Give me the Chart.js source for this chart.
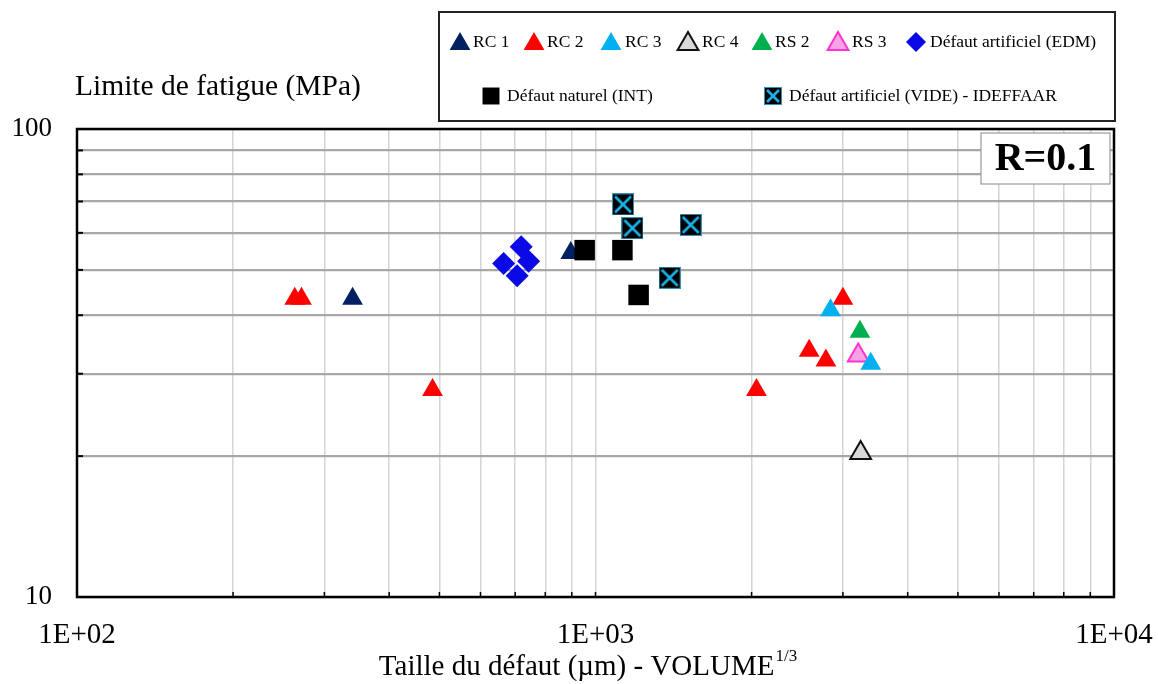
<!DOCTYPE html>
<html>
<head>
<meta charset="utf-8">
<script src="https://cdn.jsdelivr.net/npm/chart.js@4"></script>
<style>
  html, body { margin: 0; padding: 0; background: #fff; }
  #chart { display: block; }
</style>
</head>
<body>
<canvas id="chart" width="1158" height="684"></canvas>
<script>
// data (x = defect size in µm, y = fatigue limit in MPa)
var rc1X = [340, 896];
var rc1Y = [43.4, 54.3];
var rc2X = [263, 271, 485, 2044, 3000, 2583, 2782];
var rc2Y = [43.4, 43.4, 27.7, 27.7, 43.4, 33.6, 32.0];
var rc3X = [2840, 3395];
var rc3Y = [41.0, 31.5];
var rc4X = [3246];
var rc4Y = [20.3];
var rs2X = [3236];
var rs2Y = [36.9];
var rs3X = [3212];
var rs3Y = [32.8];
var edmX = [719, 743, 665, 706];
var edmY = [56.0, 52.2, 51.6, 48.6];
var intX = [953, 1127, 1211];
var intY = [55.1, 55.1, 44.2];
var videX = [1130, 1178, 1526, 1390];
var videY = [69.0, 61.4, 62.4, 48.1];

var seriesLabels = ['RC 1', 'RC 2', 'RC 3', 'RC 4', 'RS 2', 'RS 3',
  'Défaut artificiel (EDM)', 'Défaut naturel (INT)', 'Défaut artificiel (VIDE) - IDEFFAAR'];

// grid positions of the two log axes, and the few that carry a label
var xGridValues = [100, 200, 300, 400, 500, 600, 700, 800, 900,
  1000, 2000, 3000, 4000, 5000, 6000, 7000, 8000, 9000, 10000];
var yGridValues = [10, 20, 30, 40, 50, 60, 70, 80, 90, 100];
var xTickValues = [100, 1000, 10000];
var xTickLabels = ['1E+02', '1E+03', '1E+04'];
var yTickValues = [10, 100];
var yTickLabels = ['10', '100'];

var yTitle = 'Limite de fatigue (MPa)';
var xTitle = 'Taille du défaut (µm) - VOLUME';
var xTitleSup = '1/3';
var ratioText = 'R=0.1';

var FONT = '"Liberation Serif", "Times New Roman", serif';

function pts(xs, ys) {
  return xs.map(function(x, i) { return {x: x, y: ys[i]}; });
}

function findLabel(values, labels, v) {
  for (var i = 0; i < values.length; i++) {
    if (Math.abs(v - values[i]) < values[i] * 1e-6) return labels[i];
  }
  return '';
}

// black square with a cyan cross for the VIDE series
function makeVideMarker(size) {
  var c = document.createElement('canvas');
  c.width = size; c.height = size;
  var g = c.getContext('2d');
  g.fillStyle = '#000';
  g.fillRect(0, 0, size, size);
  g.strokeStyle = '#3a8fb5';
  g.lineWidth = 1;
  g.strokeRect(0.5, 0.5, size - 1, size - 1);
  g.strokeStyle = '#1ab2ea';
  g.lineWidth = 2.6;
  g.beginPath();
  g.moveTo(3, 3); g.lineTo(size - 3, size - 3);
  g.moveTo(size - 3, 3); g.lineTo(3, size - 3);
  g.stroke();
  return c;
}
var videMarker = makeVideMarker(22);
var videLegendMarker = makeVideMarker(18);

function tri(label, data, fill, border, bw, order) {
  return {
    label: label, data: data, pointStyle: 'triangle', pointRadius: 12, pointHoverRadius: 12,
    backgroundColor: fill, borderColor: border, pointBorderWidth: bw, order: order
  };
}

var datasets = [
  tri(seriesLabels[0], pts(rc1X, rc1Y), '#002060', '#002060', 0, 9),
  tri(seriesLabels[1], pts(rc2X, rc2Y), '#ff0000', '#ff0000', 0, 5),
  tri(seriesLabels[2], pts(rc3X, rc3Y), '#00b0f0', '#00b0f0', 0, 4),
  tri(seriesLabels[3], pts(rc4X, rc4Y), '#d9d9d9', '#111111', 2, 8),
  tri(seriesLabels[4], pts(rs2X, rs2Y), '#00b050', '#00b050', 0, 7),
  tri(seriesLabels[5], pts(rs3X, rs3Y), '#f5a3e4', '#ff33cc', 2, 6),
  {
    label: seriesLabels[6], data: pts(edmX, edmY), pointStyle: 'rectRot', pointRadius: 11.5, pointHoverRadius: 11.5,
    backgroundColor: '#0a0ae6', borderColor: '#0a0ae6', pointBorderWidth: 0, order: 3
  },
  {
    label: seriesLabels[7], data: pts(intX, intY), pointStyle: 'rect', pointRadius: 14.5, pointHoverRadius: 14.5,
    backgroundColor: '#000', borderColor: '#000', pointBorderWidth: 0, order: 2
  },
  {
    label: seriesLabels[8], data: pts(videX, videY), pointStyle: videMarker, pointRadius: 11, pointHoverRadius: 11,
    backgroundColor: '#000', borderColor: '#000', pointBorderWidth: 0, order: 1
  }
];

var framePlugin = {
  id: 'frame',
  beforeDatasetsDraw: function(chart) {
    var a = chart.chartArea, ctx = chart.ctx;
    var sx = chart.scales.x, sy = chart.scales.y;
    ctx.save();
    ctx.strokeStyle = '#000';
    ctx.lineWidth = 1.5;
    sx.ticks.forEach(function(t) {
      var px = sx.getPixelForValue(t.value);
      ctx.beginPath(); ctx.moveTo(px, a.bottom); ctx.lineTo(px, a.bottom - 5); ctx.stroke();
    });
    ctx.lineWidth = 2;
    sy.ticks.forEach(function(t) {
      var py = sy.getPixelForValue(t.value);
      ctx.beginPath(); ctx.moveTo(a.left, py); ctx.lineTo(a.left + 6, py); ctx.stroke();
    });
    ctx.lineWidth = 2.5;
    ctx.strokeRect(a.left, a.top, a.right - a.left, a.bottom - a.top);
    ctx.restore();
  },
  afterDraw: function(chart) {
    var ctx = chart.ctx;
    var a = chart.chartArea;
    ctx.save();

    // axis titles
    ctx.fillStyle = '#000';
    ctx.textBaseline = 'middle';
    ctx.font = '29.5px ' + FONT;
    ctx.textAlign = 'left';
    ctx.fillText(yTitle, a.left - 2, 87);

    ctx.font = '29px ' + FONT;
    var w1 = ctx.measureText(xTitle).width;
    ctx.font = '17px ' + FONT;
    var w2 = ctx.measureText(xTitleSup).width;
    var x0 = (a.left + a.right) / 2 - 8 - (w1 + w2) / 2;
    ctx.font = '29px ' + FONT;
    ctx.fillText(xTitle, x0, 667);
    ctx.font = '17px ' + FONT;
    ctx.fillText(xTitleSup, x0 + w1 + 1, 657);

    // R=0.1 box
    ctx.fillStyle = '#fff';
    ctx.fillRect(981, 133, 129, 51);
    ctx.strokeStyle = '#9a9a9a';
    ctx.lineWidth = 1.2;
    ctx.strokeRect(981, 133, 129, 51);
    ctx.fillStyle = '#000';
    ctx.font = 'bold 40px ' + FONT;
    ctx.textAlign = 'center';
    ctx.fillText(ratioText, 1045.5, 160);

    // legend box
    ctx.fillStyle = '#fff';
    ctx.fillRect(439, 12, 676, 109);
    ctx.strokeStyle = '#222';
    ctx.lineWidth = 2;
    ctx.strokeRect(439, 12, 676, 109);

    var items = [
      {i: 0, mx: 460, tx: 473, y: 42},
      {i: 1, mx: 534, tx: 547, y: 42},
      {i: 2, mx: 611, tx: 625, y: 42},
      {i: 3, mx: 688, tx: 702, y: 42},
      {i: 4, mx: 762, tx: 775, y: 42},
      {i: 5, mx: 838, tx: 852, y: 42},
      {i: 6, mx: 916, tx: 930, y: 42},
      {i: 7, mx: 491, tx: 507, y: 96},
      {i: 8, mx: 773, tx: 789, y: 96}
    ];
    ctx.font = '17.5px ' + FONT;
    ctx.textAlign = 'left';
    items.forEach(function(it) {
      var ds = chart.data.datasets[it.i];
      ctx.fillStyle = ds.backgroundColor;
      ctx.strokeStyle = ds.borderColor;
      ctx.lineWidth = ds.pointBorderWidth;
      if (it.i === 8) {
        ctx.drawImage(videLegendMarker, it.mx - 9, it.y - 9);
      } else {
        var r = ds.pointStyle === 'triangle' ? 12 : (ds.pointStyle === 'rect' ? 12 : 10);
        var my = ds.pointStyle === 'triangle' ? it.y + 2 : it.y;
        Chart.helpers.drawPoint(ctx, {
          pointStyle: ds.pointStyle, radius: r, rotation: 0, borderWidth: ds.pointBorderWidth
        }, it.mx, my);
      }
      ctx.fillStyle = '#000';
      ctx.fillText(ds.label, it.tx, it.y);
    });
    ctx.restore();
  }
};

function setTicks(values) {
  return function(s) {
    s.ticks = values.map(function(v) { return {value: v}; });
  };
}

new Chart(document.getElementById('chart').getContext('2d'), {
  type: 'scatter',
  data: { datasets: datasets },
  options: {
    responsive: false,
    animation: false,
    devicePixelRatio: 1,
    layout: { padding: { left: 0, right: 44, top: 129, bottom: 0 } },
    plugins: { legend: { display: false }, tooltip: { enabled: false } },
    scales: {
      x: {
        type: 'logarithmic',
        min: 100,
        max: 10000,
        afterBuildTicks: setTicks(xGridValues),
        afterFit: function(s) { s.height = 87; s.paddingLeft = 0; s.paddingRight = 0; },
        border: { display: false },
        grid: { color: '#d4d4d4', lineWidth: 1.5, drawTicks: false },
        ticks: {
          autoSkip: false,
          maxRotation: 0,
          padding: 21,
          color: '#000',
          font: { family: FONT, size: 29 },
          callback: function(v) { return findLabel(xTickValues, xTickLabels, v); }
        }
      },
      y: {
        type: 'logarithmic',
        min: 10,
        max: 100,
        afterBuildTicks: setTicks(yGridValues),
        afterFit: function(s) { s.width = 77; s.paddingTop = 0; s.paddingBottom = 0; },
        border: { display: false },
        grid: { color: '#a8a8a8', lineWidth: 2.2, drawTicks: false },
        ticks: {
          autoSkip: false,
          padding: 25,
          color: '#000',
          font: { family: FONT, size: 27 },
          callback: function(v) { return findLabel(yTickValues, yTickLabels, v); }
        }
      }
    }
  },
  plugins: [framePlugin]
});
</script>
</body>
</html>
